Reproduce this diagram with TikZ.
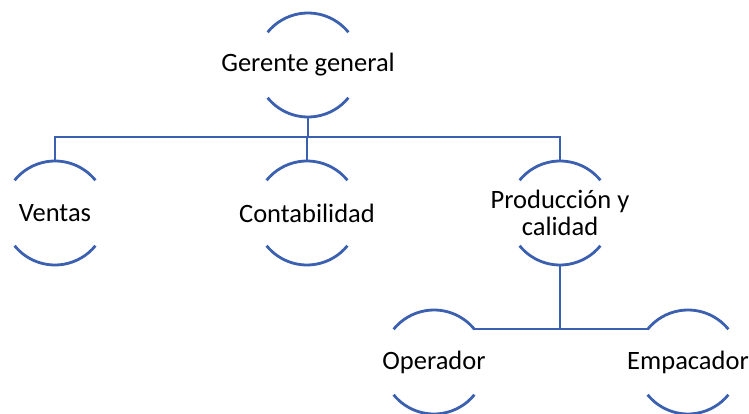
\documentclass[tikz,border=0pt]{standalone}
\usepackage{fontspec}
\setmainfont{Carlito}
\definecolor{arcblue}{RGB}{60,96,176}
\tikzset{
  orgnode/.style={circle, minimum size=104pt, inner sep=0pt, outer sep=0pt,
    label={[font=\fontsize{26.5}{27}\selectfont, align=center, text=black]center:#1}},
  arcline/.style={draw=arcblue, line width=2.8pt},
  conn/.style={draw=arcblue, line width=2.3pt}
}
\begin{document}
\begin{tikzpicture}[x=1pt,y=1pt]
\useasboundingbox (0,0) rectangle (749,413);
\node[orgnode={Gerente general}] (g) at (308,348) {};
\node[orgnode={Ventas}] (v) at (55,200) {};
\node[orgnode={Contabilidad}] (c) at (307,200) {};
\node[orgnode={Producción y\\calidad}] (p) at (560,200) {};
\node[orgnode={Operador}] (o) at (434,51) {};
\node[orgnode={Empacador}] (e) at (688,51) {};
\foreach \n in {g,v,c,p,o,e}{
  \draw[arcline] (\n.39) arc[start angle=39, end angle=141, radius=52pt];
  \draw[arcline] (\n.-141) arc[start angle=-141, end angle=-39, radius=52pt];
}
\coordinate (bus) at ([yshift=-20pt]g.south);
\draw[conn] (g.south) -- (bus);
\draw[conn] (bus) -| (v.north);
\draw[conn] (bus) -| (c.north);
\draw[conn] (bus) -| (p.north);
\draw[conn] (o.39) -- (e.141);
\draw[conn] (p.south) -- (p.south |- o.39);
\end{tikzpicture}
\end{document}
